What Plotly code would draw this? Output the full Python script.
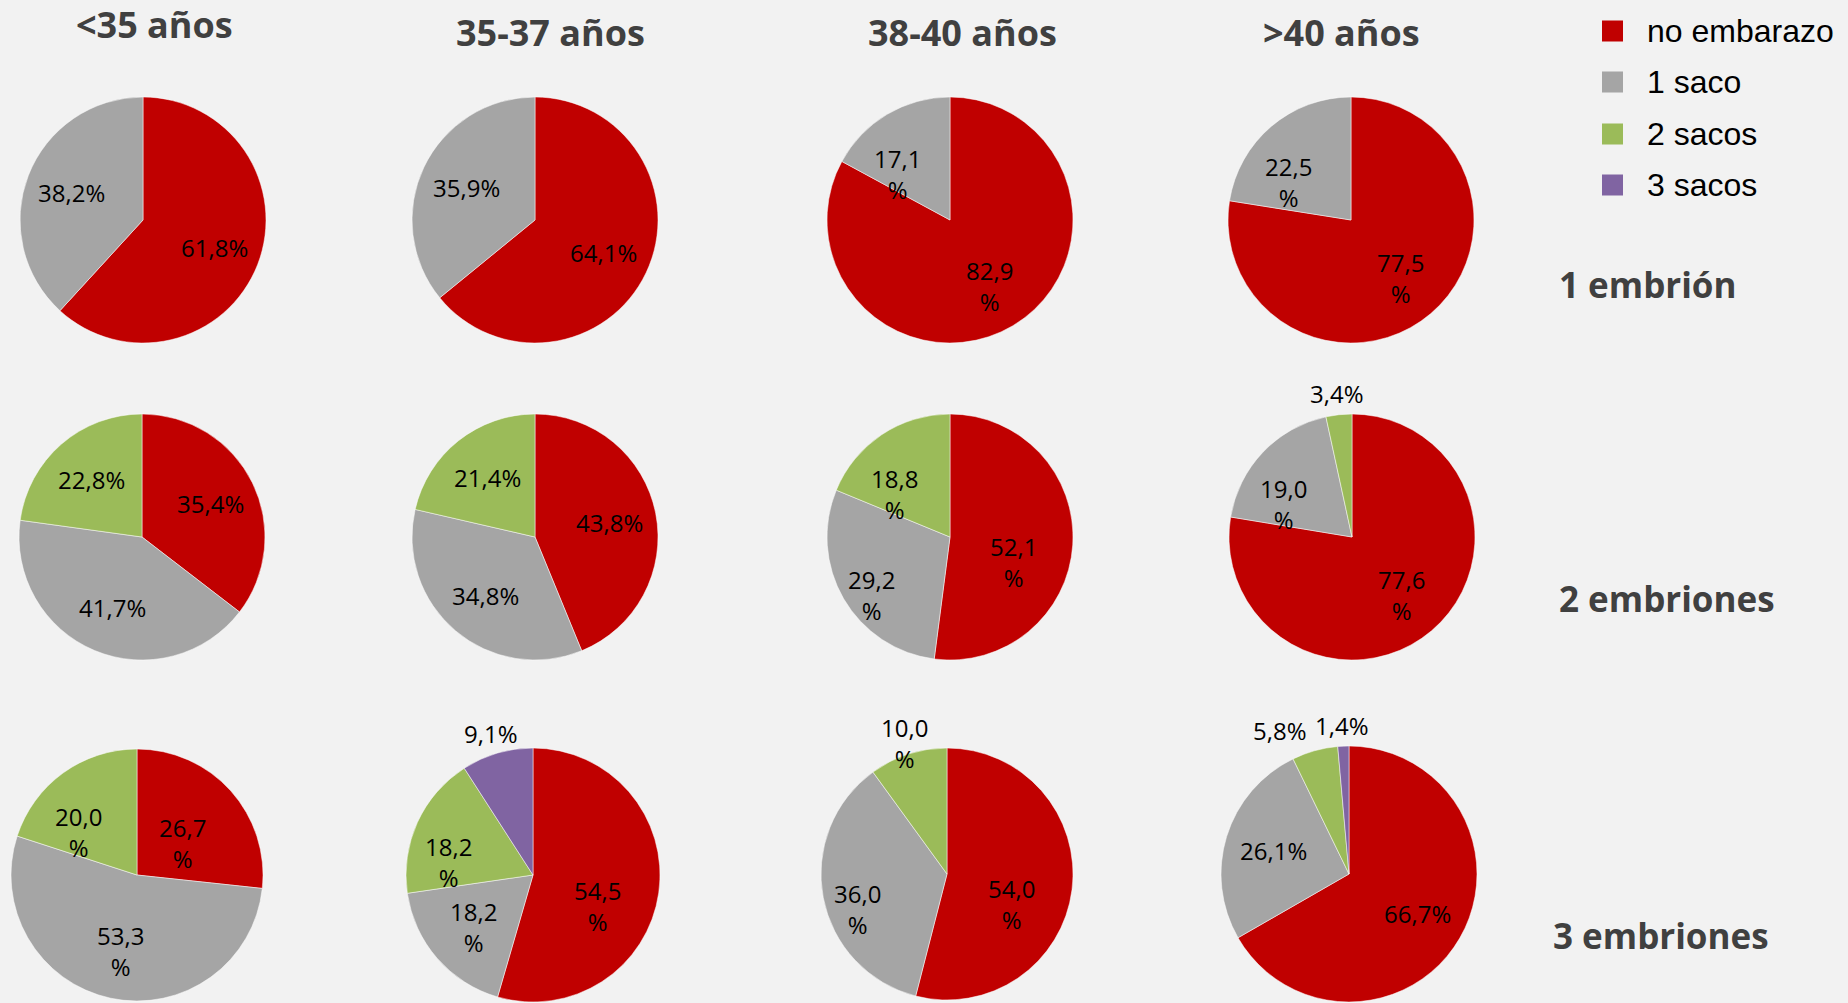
import math
import plotly.graph_objects as go

# ---------------- data ----------------
categories = ["no embarazo", "1 saco", "2 sacos", "3 sacos"]
age_groups = ["<35 años", "35-37 años", "38-40 años", ">40 años"]
row_labels = ["1 embrión", "2 embriones", "3 embriones"]

# values per pie, in category order (no embarazo, 1 saco, 2 sacos, 3 sacos)
emb1_lt35 = [61.8, 38.2]
emb1_35_37 = [64.1, 35.9]
emb1_38_40 = [82.9, 17.1]
emb1_gt40 = [77.5, 22.5]

emb2_lt35 = [35.4, 41.7, 22.8]
emb2_35_37 = [43.8, 34.8, 21.4]
emb2_38_40 = [52.1, 29.2, 18.8]
emb2_gt40 = [77.6, 19.0, 3.4]

emb3_lt35 = [26.7, 53.3, 20.0]
emb3_35_37 = [54.5, 18.2, 18.2, 9.1]
emb3_38_40 = [54.0, 36.0, 10.0]
emb3_gt40 = [66.7, 26.1, 5.8, 1.4]

values_grid = [
    [emb1_lt35, emb1_35_37, emb1_38_40, emb1_gt40],
    [emb2_lt35, emb2_35_37, emb2_38_40, emb2_gt40],
    [emb3_lt35, emb3_35_37, emb3_38_40, emb3_gt40],
]

# ---------------- styling ----------------
colors = ["#C00000", "#A5A5A5", "#9BBB59", "#8064A2"]
BG = "#F2F2F2"
W, H = 1848, 1003
LABEL_FONT = dict(family="Open Sans", size=24, color="black")
TITLE_FONT = dict(family="Open Sans", size=36, color="#404040")
ROW_FONT = dict(family="Open Sans", size=35, color="#404040")

# label line-break (as in the original text boxes)
wrap_grid = [
    [[0, 0], [0, 0], [1, 1], [1, 1]],
    [[0, 0, 0], [0, 0, 0], [1, 1, 1], [1, 1, 0]],
    [[1, 1, 1], [1, 1, 1, 0], [1, 1, 1], [0, 0, 0, 0]],
]
# label placement: 0 inside, 1 outside centred, 2 outside right-aligned
place_grid = [
    [[0, 0], [0, 0], [0, 0], [0, 0]],
    [[0, 0, 0], [0, 0, 0], [0, 0, 0], [0, 0, 1]],
    [[0, 0, 0], [0, 0, 0, 1], [0, 0, 1], [0, 0, 2, 1]],
]
# offset of a wrapped inside label (text box grows down from its one-line spot)
WRAP_DX, WRAP_DY = -13, 20

# pie centres / radii in pixels (layout)
centers = [
    [(143, 220), (535, 220), (950, 220), (1351, 220)],
    [(142, 537), (535, 537), (950, 537), (1352, 537)],
    [(137, 875), (533, 875), (947, 874), (1349, 874)],
]
radii = [
    [123, 123, 123, 123],
    [123, 123, 123, 123],
    [126, 127, 126, 128],
]


def fmt(v, wrap):
    s = f"{v:.1f}".replace(".", ",")
    return s + ("<br>%" if wrap else "%")


def clamp(t):
    return min(1.0, max(0.0, t))


fig = go.Figure()
annotations = []
for r, row in enumerate(values_grid):
    for c, vals in enumerate(row):
        cx, cy = centers[r][c]
        rad = radii[r][c]
        fig.add_trace(go.Pie(
            labels=categories[:len(vals)],
            values=vals,
            textinfo="none",
            sort=False,
            direction="clockwise",
            rotation=0,
            marker=dict(colors=colors[:len(vals)], line=dict(color="white", width=0.5)),
            showlegend=False,
            hoverinfo="label+percent",
            domain=dict(x=[clamp((cx - rad) / W), clamp((cx + rad) / W)],
                        y=[clamp(1 - (cy + rad) / H), clamp(1 - (cy - rad) / H)]),
        ))
        # data labels placed at each slice's mid-angle (clockwise from 12 o'clock)
        total = sum(vals)
        cum = 0.0
        for v, wrap, place in zip(vals, wrap_grid[r][c], place_grid[r][c]):
            theta = 2 * math.pi * (cum + v / 2) / total
            cum += v
            if place == 0:
                dist = 0.62 * rad
            else:
                dist = rad + (12 if wrap else 21)
            lx = cx + dist * math.sin(theta)
            ly = cy - dist * math.cos(theta)
            if place == 0 and wrap and math.cos(theta) > -0.55:
                lx += WRAP_DX
                ly += WRAP_DY
            annotations.append(dict(
                text=fmt(v, wrap), x=lx / W, y=1 - ly / H, xref="paper", yref="paper",
                xanchor="right" if place == 2 else "center", yanchor="middle",
                showarrow=False, font=LABEL_FONT, align="center"))

title_pos = [(154, 24), (550, 32), (963, 32), (1341, 32)]
for txt, (x, y) in zip(age_groups, title_pos):
    annotations.append(dict(text=f"<b>{txt}</b>", x=x / W, y=1 - y / H, xref="paper", yref="paper",
                            xanchor="center", yanchor="middle", showarrow=False, font=TITLE_FONT))
row_pos = [(1557, 285), (1557, 598), (1551, 935)]
for txt, (x, y) in zip(row_labels, row_pos):
    annotations.append(dict(text=f"<b>{txt}</b>", x=x / W, y=1 - y / H, xref="paper", yref="paper",
                            xanchor="left", yanchor="middle", showarrow=False, font=ROW_FONT))

# legend (drawn manually to match the large square swatches)
shapes = []
leg_y = [31, 82, 134, 185]
for cat, col, y in zip(categories, colors, leg_y):
    shapes.append(dict(type="rect", xref="paper", yref="paper",
                       x0=1602 / W, x1=1623 / W, y0=1 - (y + 10.5) / H, y1=1 - (y - 10.5) / H,
                       fillcolor=col, line=dict(width=0)))
    annotations.append(dict(text=cat, x=1645 / W, y=1 - y / H, xref="paper", yref="paper",
                            xanchor="left", yanchor="middle", showarrow=False,
                            font=dict(family="Liberation Sans", size=32, color="black")))

fig.update_layout(
    width=W, height=H, autosize=False,
    margin=dict(l=0, r=0, t=0, b=0),
    paper_bgcolor=BG, plot_bgcolor=BG,
    annotations=annotations, shapes=shapes,
    showlegend=False,
)
fig.write_html("out.html")
